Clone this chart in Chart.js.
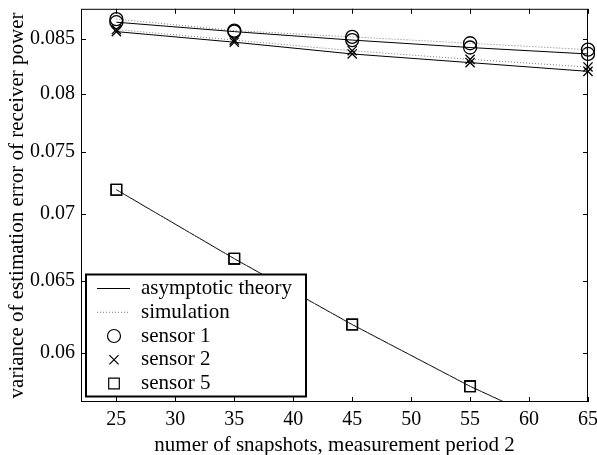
<!DOCTYPE html>
<html>
<head>
<meta charset="utf-8">
<script src="https://cdn.jsdelivr.net/npm/chart.js@4"></script>
<style>
  html, body { margin: 0; padding: 0; background: #fff; }
  #wrap { width: 597px; height: 455px; }
</style>
</head>
<body>
<div id="wrap"><canvas id="c"></canvas></div>
<script>
// values (y axis is logarithmic)
const snapshots = [25, 35, 45, 55, 65];
const sensor1Theory = [0.0866, 0.0857, 0.0849, 0.0842, 0.0836];
const sensor1Sim    = [0.0869, 0.0858, 0.0852, 0.0846, 0.0840];
const sensor2Theory = [0.0857, 0.0847, 0.0836, 0.0828, 0.0820];
const sensor2Sim    = [0.0859, 0.0849, 0.0839, 0.0831, 0.0824];
const sensor5Theory = [0.0719, 0.0666, 0.0619, 0.0578, 0.0544];
const sensor5Sim    = [0.0719, 0.0666, 0.0619, 0.0578, 0.0544];

const xTicks = [25, 30, 35, 40, 45, 50, 55, 60, 65];
const yTicks = [0.06, 0.065, 0.07, 0.075, 0.08, 0.085];
const legendLabels = ['asymptotic theory', 'simulation', 'sensor 1', 'sensor 2', 'sensor 5'];

const serif = '"Liberation Serif", "Times New Roman", serif';

function series(values, dotted, marker, radius) {
  return {
    data: snapshots.map((x, i) => ({ x: x, y: values[i] })),
    borderColor: dotted ? '#7a7a7a' : '#000',
    borderWidth: 1,
    borderDash: dotted ? [1, 2] : [],
    pointStyle: marker,
    pointRadius: radius,
    pointBorderColor: '#000',
    pointBackgroundColor: 'rgba(0,0,0,0)',
    pointBorderWidth: 1.3,
    tension: 0,
    clip: { left: false, top: false, right: false, bottom: 0 }
  };
}

// draw a legend symbol by hand
function symbol(ctx, style, x, y, r) {
  ctx.beginPath();
  if (style === 'circle') {
    ctx.arc(x, y, r, 0, Math.PI * 2);
  } else if (style === 'crossRot') {
    const d = r * Math.SQRT1_2;
    ctx.moveTo(x - d, y - d); ctx.lineTo(x + d, y + d);
    ctx.moveTo(x - d, y + d); ctx.lineTo(x + d, y - d);
  } else {
    const s = r * Math.SQRT1_2;
    ctx.rect(x - s, y - s, 2 * s, 2 * s);
  }
  ctx.stroke();
}

const boxPlugin = {
  id: 'box',
  afterDatasetsDraw(chart) {
    const { ctx, chartArea: a, scales } = chart;
    ctx.save();
    ctx.strokeStyle = '#000';
    ctx.lineWidth = 1;
    ctx.strokeRect(a.left + 0.5, a.top + 0.5, a.right - a.left - 1, a.bottom - a.top - 1);
    // inward ticks on all four sides
    const tl = 5;
    ctx.beginPath();
    xTicks.forEach(v => {
      const px = Math.round(scales.x.getPixelForValue(v)) + 0.5;
      ctx.moveTo(px, a.bottom); ctx.lineTo(px, a.bottom - tl);
      ctx.moveTo(px, a.top); ctx.lineTo(px, a.top + tl);
    });
    yTicks.forEach(v => {
      const py = Math.round(scales.y.getPixelForValue(v)) + 0.5;
      ctx.moveTo(a.left, py); ctx.lineTo(a.left + tl, py);
      ctx.moveTo(a.right, py); ctx.lineTo(a.right - tl, py);
    });
    ctx.stroke();

    // legend
    const bx = 86, by = 274.5, bw = 220, bh = 122;
    ctx.fillStyle = '#fff';
    ctx.fillRect(bx, by, bw, bh);
    ctx.lineWidth = 2;
    ctx.strokeRect(bx, by, bw, bh);
    const row0 = 288.5, step = 23.75, symX = 114, textX = 141;
    ctx.lineWidth = 1;
    ctx.beginPath();
    ctx.moveTo(97, row0); ctx.lineTo(130, row0);
    ctx.stroke();
    ctx.strokeStyle = '#7a7a7a';
    ctx.setLineDash([1, 2]);
    ctx.beginPath();
    ctx.moveTo(97, row0 + step); ctx.lineTo(130, row0 + step);
    ctx.stroke();
    ctx.setLineDash([]);
    ctx.strokeStyle = '#000';
    ctx.lineWidth = 1.2;
    symbol(ctx, 'circle', symX, row0 + 2 * step, 6.5);
    symbol(ctx, 'crossRot', symX, row0 + 3 * step, 6.5);
    symbol(ctx, 'rect', symX, row0 + 4 * step, 7.5);
    ctx.fillStyle = '#000';
    ctx.font = '21px ' + serif;
    ctx.textBaseline = 'middle';
    ctx.textAlign = 'left';
    legendLabels.forEach((t, i) => ctx.fillText(t, textX, row0 + i * step));
    ctx.restore();
  }
};

new Chart(document.getElementById('c'), {
  type: 'line',
  data: {
    datasets: [
      series(sensor1Sim, true, 'circle', 6.5),
      series(sensor2Sim, true, 'crossRot', 6.5),
      series(sensor5Sim, true, 'rect', 7.5),
      series(sensor1Theory, false, 'circle', 6.5),
      series(sensor2Theory, false, 'crossRot', 6.5),
      series(sensor5Theory, false, 'rect', 7.5)
    ]
  },
  options: {
    responsive: true,
    maintainAspectRatio: false,
    animation: false,
    devicePixelRatio: 1,
    layout: { padding: { top: 4, right: 9, left: 0, bottom: 0 } },
    plugins: { legend: { display: false }, tooltip: { enabled: false } },
    scales: {
      x: {
        type: 'linear',
        min: 22,
        max: 65,
        grid: { display: false, drawTicks: false },
        border: { display: false },
        afterBuildTicks: s => { s.ticks = xTicks.map(v => ({ value: v })); },
        afterFit: s => { s.height = 53; s.paddingLeft = 0; s.paddingRight = 0; },
        ticks: { padding: 6, color: '#000', font: { family: serif, size: 20 }, maxRotation: 0, autoSkip: false,
                 callback: v => String(v) },
        title: { display: true, text: 'numer of snapshots, measurement period 2', color: '#000',
                 font: { family: serif, size: 21, lineHeight: 0.92 }, padding: 0 }
      },
      y: {
        type: 'logarithmic',
        min: 0.0568,
        max: 0.0879,
        grid: { display: false, drawTicks: false },
        border: { display: false },
        afterBuildTicks: s => { s.ticks = yTicks.map(v => ({ value: v })); },
        afterFit: s => { s.width = 81; s.paddingTop = 0; s.paddingBottom = 0; },
        ticks: { padding: 6, color: '#000', font: { family: serif, size: 20 }, autoSkip: false,
                 callback: v => String(+Number(v).toFixed(3)) },
        title: { display: true, text: 'variance of estimation error of receiver power', color: '#000',
                 font: { family: serif, size: 21, lineHeight: 1.2 }, padding: { top: 5, bottom: 0 } }
      }
    }
  },
  plugins: [boxPlugin]
});
</script>
</body>
</html>
